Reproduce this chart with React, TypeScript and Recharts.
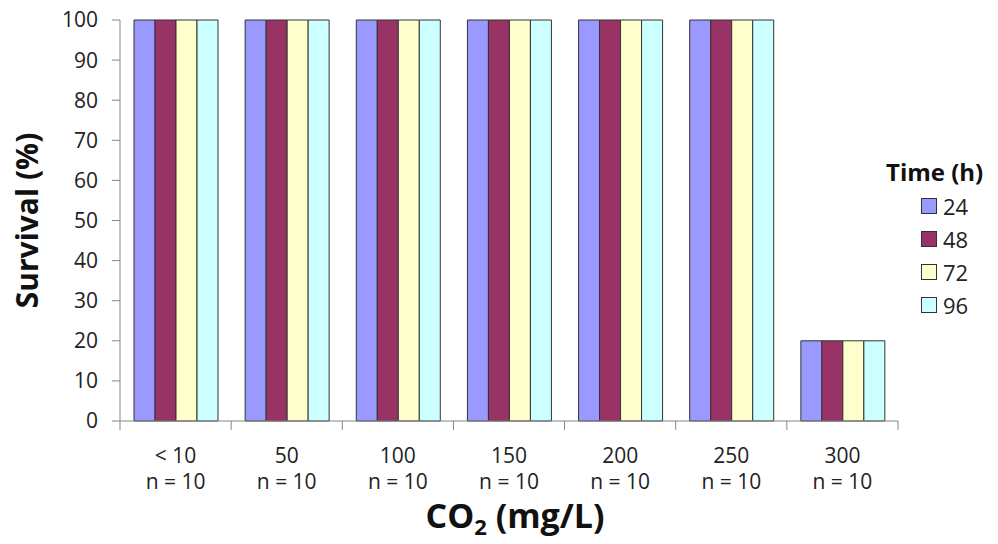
import React from "react";
import { BarChart, Bar, XAxis, YAxis, Legend, Label } from "recharts";

const categories = ["< 10", "50", "100", "150", "200", "250", "300"];
const sampleSizes = ["n = 10", "n = 10", "n = 10", "n = 10", "n = 10", "n = 10", "n = 10"];
const s24 = [100, 100, 100, 100, 100, 100, 20];
const s48 = [100, 100, 100, 100, 100, 100, 20];
const s72 = [100, 100, 100, 100, 100, 100, 20];
const s96 = [100, 100, 100, 100, 100, 100, 20];
const seriesNames = ["24", "48", "72", "96"];
const seriesColors = ["#9999FF", "#993366", "#FFFFCC", "#CCFFFF"];
const yTicks = [0, 10, 20, 30, 40, 50, 60, 70, 80, 90, 100];

const data = categories.map((c, i) => ({
  name: c,
  n: sampleSizes[i],
  t24: s24[i],
  t48: s48[i],
  t72: s72[i],
  t96: s96[i],
}));
const keys = ["t24", "t48", "t72", "t96"];

const FONT = "'Open Sans', 'Noto Sans', sans-serif";
const AXIS = "#868686";

const W = 998;
const H = 544;
const LEGEND_W = 112;
const margin = { top: 20, right: 100 - LEGEND_W, bottom: 0, left: 0 };
const yAxisWidth = 120;
const xAxisHeight = 123;
const plotW = W - margin.left - 100 - yAxisWidth;
const band = plotW / categories.length;

const XTick = (props: any) => {
  const { x, y, payload, index } = props;
  const i = payload.index ?? index;
  return (
    <g>
      <line x1={x - band / 2} y1={y - 8} x2={x - band / 2} y2={y + 1} stroke={AXIS} strokeWidth={1} />
      {i === categories.length - 1 && (
        <line x1={x + band / 2} y1={y - 8} x2={x + band / 2} y2={y + 1} stroke={AXIS} strokeWidth={1} />
      )}
      <text x={x} y={y + 34} textAnchor="middle" fontSize={21} fontFamily={FONT} fill="#222">
        {payload.value}
      </text>
      <text x={x} y={y + 60} textAnchor="middle" fontSize={21} fontFamily={FONT} fill="#222">
        {sampleSizes[i]}
      </text>
    </g>
  );
};

const LegendContent = () => (
  <div style={{ fontFamily: FONT, width: LEGEND_W }}>
    <div style={{ fontWeight: 700, fontSize: 24, color: "#111", lineHeight: "34px", whiteSpace: "nowrap" }}>
      Time (h)
    </div>
    {seriesNames.map((n, i) => (
      <div key={n} style={{ display: "flex", alignItems: "center", height: 33, paddingLeft: 35 }}>
        <span
          style={{
            display: "inline-block",
            width: 14,
            height: 14,
            background: seriesColors[i],
            border: "1px solid #333",
            marginRight: 6,
          }}
        />
        <span style={{ fontSize: 22, color: "#222" }}>{n}</span>
      </div>
    ))}
  </div>
);

export default function App() {
  return (
    <div style={{ position: "absolute", left: 0, top: 0, background: "#fff" }}>
      <BarChart width={W} height={H} data={data} margin={margin} barGap={0} barCategoryGap={14}>
        <XAxis
          dataKey="name"
          axisLine={{ stroke: AXIS }}
          tickLine={false}
          tick={<XTick />}
          interval={0}
          height={xAxisHeight}
        >
          <Label
            content={(p: any) => {
              const vb = p.viewBox;
              const cx = vb.x + vb.width / 2;
              return (
                <text x={cx + 6} y={528} textAnchor="middle" fontFamily={FONT} fontWeight={700} fontSize={34} fill="#111">
                  CO<tspan fontSize={22} dy={7}>2</tspan>
                  <tspan dy={-7}> (mg/L)</tspan>
                </text>
              );
            }}
          />
        </XAxis>
        <YAxis
          domain={[0, 100]}
          ticks={yTicks}
          width={yAxisWidth}
          axisLine={{ stroke: AXIS }}
          tickLine={{ stroke: AXIS }}
          tickSize={8}
          tickMargin={14}
          tick={{ fontSize: 21, fontFamily: FONT, fill: "#222" }}
        >
          <Label
            content={(p: any) => {
              const vb = p.viewBox;
              const cy = vb.y + vb.height / 2;
              return (
                <text
                  x={38}
                  y={cy}
                  transform={`rotate(-90, 38, ${cy})`}
                  textAnchor="middle"
                  fontFamily={FONT}
                  fontWeight={700}
                  fontSize={30}
                  fill="#111"
                >
                  Survival (%)
                </text>
              );
            }}
          />
        </YAxis>
        <Legend
          layout="vertical"
          align="right"
          verticalAlign="top"
          content={<LegendContent />}
          wrapperStyle={{ top: 155, right: 0, width: LEGEND_W }}
        />
        {keys.map((k, i) => (
          <Bar
            key={k}
            dataKey={k}
            name={seriesNames[i]}
            fill={seriesColors[i]}
            stroke="#333"
            strokeWidth={1}
            isAnimationActive={false}
          />
        ))}
      </BarChart>
    </div>
  );
}
